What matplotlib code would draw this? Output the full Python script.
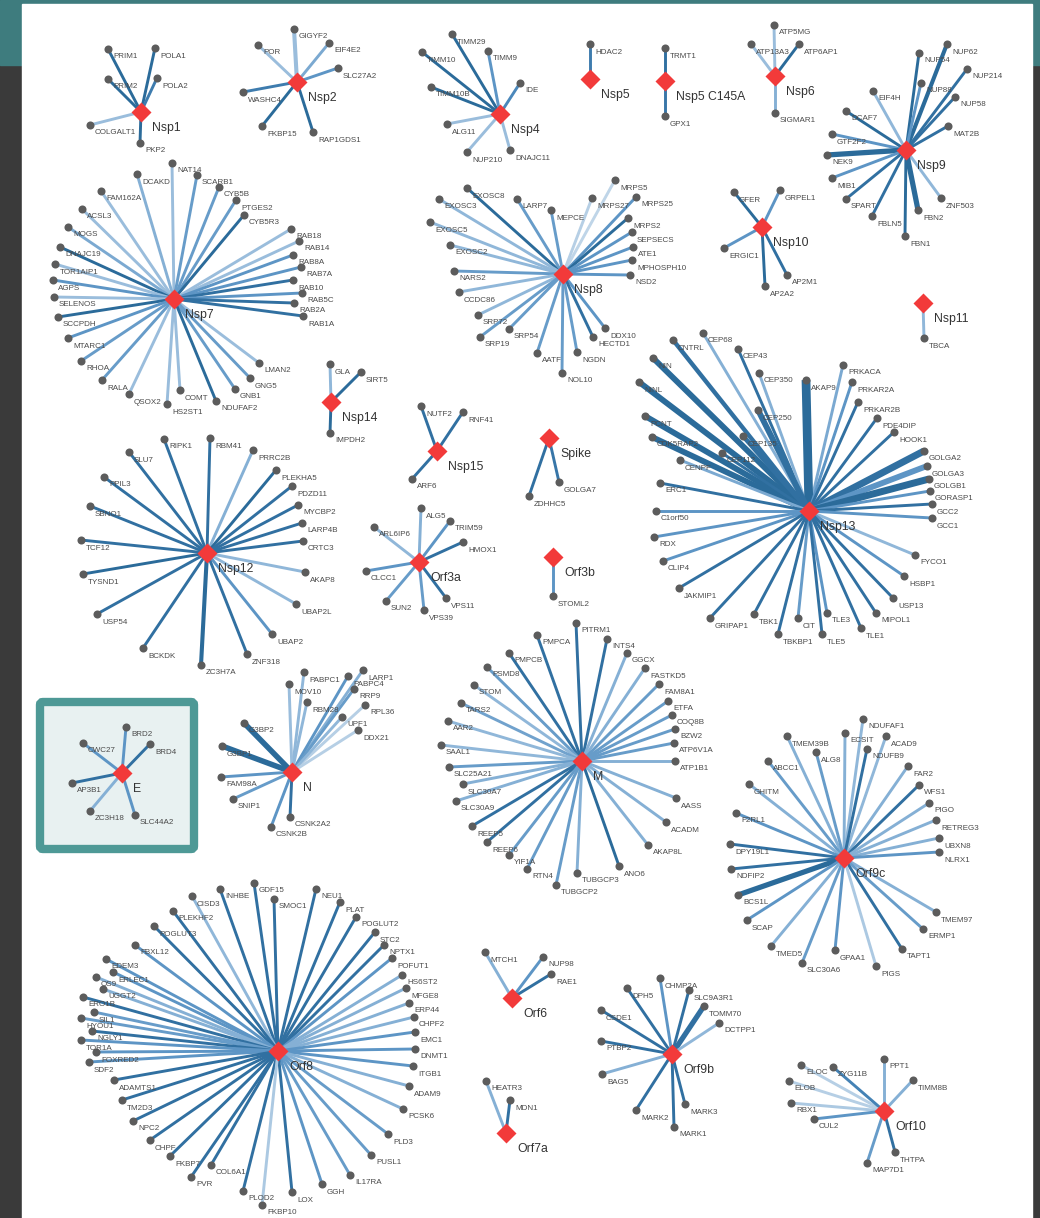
import matplotlib.pyplot as plt
from matplotlib.colors import LinearSegmentedColormap
from matplotlib.patches import Rectangle, FancyBboxPatch

plt.rcParams['font.family'] = ['Liberation Sans', 'DejaVu Sans']

# viral baits and hub positions (canvas pixels, y down)
baits = ["Nsp1", "Nsp2", "Nsp4", "Nsp5", "Nsp5 C145A", "Nsp6", "Nsp7", "Nsp8",
         "Nsp9", "Nsp10", "Nsp11", "Nsp12", "Nsp13", "Nsp14", "Nsp15", "Spike",
         "Orf3a", "Orf3b", "E", "N", "M", "Orf6", "Orf7a", "Orf8", "Orf9b",
         "Orf9c", "Orf10"]
bait_xy = [(141, 112), (297, 82), (500, 114), (590, 79), (665, 81), (775, 76),
           (174, 299), (563, 274), (906, 150), (762, 227), (923, 303), (207, 553),
           (809, 511), (331, 402), (437, 451), (549, 438), (419, 562), (553, 557),
           (122, 773), (292, 772), (582, 761), (512, 998), (506, 1133), (278, 1051),
           (672, 1054), (844, 858), (884, 1111)]

# host interactors, edge score (0 weak .. 1 strong) and node layout per bait
nsp1_prey = ["PRIM1", "POLA1", "PRIM2", "POLA2", "COLGALT1", "PKP2"]
nsp1_score = [.95, .95, .95, .8, .3, .95]
nsp1_xy = [(108, 49), (155, 48), (108, 79), (157, 78), (90, 125), (140, 143)]

nsp2_prey = ["GIGYF2", "EIF4E2", "POR", "SLC27A2", "WASHC4", "FKBP15", "RAP1GDS1"]
nsp2_score = [.3, .45, .3, .6, .8, .95, .95]
nsp2_xy = [(294, 29), (329, 43), (258, 45), (338, 68), (243, 92), (262, 126), (313, 132)]

nsp4_prey = ["TIMM29", "TIMM10", "TIMM9", "IDE", "TIMM10B", "ALG11", "NUP210", "DNAJC11"]
nsp4_score = [.95, .95, .6, .7, .95, .3, .3, .3]
nsp4_xy = [(452, 34), (422, 52), (488, 51), (520, 83), (431, 87), (447, 124),
           (467, 152), (510, 150)]

nsp5_prey = ["HDAC2"]
nsp5_score = [.8]
nsp5_xy = [(590, 44)]

nsp5m_prey = ["TRMT1", "GPX1"]
nsp5m_score = [.9, .85]
nsp5m_xy = [(665, 48), (665, 116)]

nsp6_prey = ["ATP5MG", "ATP13A3", "ATP6AP1", "SIGMAR1"]
nsp6_score = [.3, .3, .95, .4]
nsp6_xy = [(774, 25), (751, 44), (799, 44), (775, 113)]

nsp7_prey = ["NAT14", "DCAKD", "SCARB1", "CYB5B", "FAM162A", "PTGES2", "CYB5R3",
             "ACSL3", "MOGS", "RAB18", "RAB14", "DNAJC19", "RAB8A", "RAB7A",
             "TOR1AIP1", "RAB10", "AGPS", "RAB5C", "SELENOS", "RAB2A", "SCCPDH",
             "RAB1A", "MTARC1", "RHOA", "LMAN2", "RALA", "GNG5", "GNB1", "COMT",
             "QSOX2", "NDUFAF2", "HS2ST1"]
nsp7_score = [.3, .4, .55, .55, .3, .55, .95, .3, .45, .3, .3, .95, .6, .6, .3, .9,
              .6, .6, .3, .9, .95, .9, .6, .55, .3, .55, .55, .55, .3, .3, .95, .3]
nsp7_xy = [(172, 163), (137, 174), (197, 175), (219, 187), (101, 191), (236, 200),
           (244, 215), (82, 209), (68, 227), (291, 229), (299, 241), (60, 247),
           (293, 255), (301, 267), (55, 264), (293, 280), (53, 280), (302, 293),
           (54, 297), (294, 303), (58, 317), (303, 316), (68, 338), (81, 361),
           (259, 363), (102, 380), (250, 378), (235, 389), (180, 390), (129, 394),
           (216, 401), (167, 404)]

nsp8_prey = ["EXOSC8", "MRPS5", "EXOSC3", "LARP7", "MRPS27", "MRPS25", "MEPCE",
             "EXOSC5", "MRPS2", "SEPSECS", "EXOSC2", "ATE1", "MPHOSPH10", "NARS2",
             "NSD2", "CCDC86", "SRP72", "SRP54", "SRP19", "DDX10", "HECTD1",
             "AATF", "NGDN", "NOL10"]
nsp8_score = [.95, .1, .35, .55, .15, .6, .55, .35, .95, .6, .35, .6, .6, .55, .6,
              .35, .35, .55, .55, .6, .9, .55, .55, .55]
nsp8_xy = [(467, 188), (615, 180), (439, 199), (517, 199), (592, 198), (636, 197),
           (551, 210), (430, 222), (628, 218), (632, 232), (450, 245), (633, 247),
           (632, 260), (454, 271), (630, 275), (459, 292), (478, 315), (509, 329),
           (480, 337), (605, 328), (593, 337), (537, 353), (577, 352), (562, 373)]

nsp9_prey = ["NUP62", "NUP54", "NUP214", "NUP88", "EIF4H", "NUP58", "DCAF7", "MAT2B",
             "GTF2F2", "NEK9", "MIB1", "SPART", "ZNF503", "FBN2", "FBLN5", "FBN1"]
nsp9_score = [.95, .95, .9, .6, .35, .9, .95, .9, .6, .95, .6, .9, .35, .95, .9, .95]
nsp9_xy = [(947, 44), (919, 53), (967, 69), (921, 83), (873, 91), (955, 97),
           (846, 111), (948, 126), (832, 134), (827, 155), (832, 178), (846, 199),
           (941, 198), (918, 210), (872, 216), (905, 236)]

nsp10_prey = ["GFER", "GRPEL1", "ERGIC1", "AP2M1", "AP2A2"]
nsp10_score = [.95, .6, .6, .9, .95]
nsp10_xy = [(734, 192), (780, 190), (724, 248), (787, 275), (765, 286)]

nsp11_prey = ["TBCA"]
nsp11_score = [.35]
nsp11_xy = [(924, 338)]

nsp12_prey = ["RBM41", "RIPK1", "PRRC2B", "SLU7", "PLEKHA5", "PPIL3", "PDZD11",
              "SBNO1", "MYCBP2", "LARP4B", "TCF12", "CRTC3", "TYSND1", "AKAP8",
              "UBAP2L", "USP54", "UBAP2", "BCKDK", "ZNF318", "ZC3H7A"]
nsp12_score = [.9, .9, .4, .9, .95, .9, .9, .9, .9, .9, .9, .9, .95, .35, .35, .9,
               .6, .9, .9, .95]
nsp12_xy = [(210, 438), (164, 439), (253, 450), (129, 452), (276, 470), (104, 477),
            (292, 486), (90, 506), (298, 505), (302, 523), (81, 540), (303, 541),
            (83, 574), (305, 572), (296, 604), (97, 614), (272, 634), (143, 648),
            (247, 654), (201, 665)]

nsp13_prey = ["CEP68", "CNTRL", "CEP43", "NIN", "PRKACA", "CEP350", "AKAP9",
              "PRKAR2A", "NINL", "PRKAR2B", "CEP250", "PCNT", "PDE4DIP", "HOOK1",
              "CDK5RAP2", "CEP135", "GOLGA2", "CEP112", "CENPF", "GOLGA3", "GOLGB1",
              "ERC1", "GORASP1", "GCC2", "C1orf50", "GCC1", "RDX", "FYCO1", "CLIP4",
              "HSBP1", "JAKMIP1", "USP13", "GRIPAP1", "MIPOL1", "TBK1", "CIT",
              "TLE3", "TLE1", "TBKBP1", "TLE5"]
nsp13_score = [.4, .9, .9, .95, .45, .4, .95, .6, .95, .9, .9, .95, .9, .9, .95,
               .9, .9, .9, .45, .6, .95, .9, .6, .9, .6, .6, .6, .35, .6, .6, .9,
               .9, .9, .9, .9, .55, .6, .9, .9, .9]
nsp13_xy = [(703, 333), (673, 340), (738, 349), (653, 358), (843, 365), (759, 373),
            (806, 380), (852, 382), (639, 382), (858, 402), (758, 410), (645, 416),
            (877, 418), (894, 432), (652, 437), (743, 436), (924, 451), (722, 453),
            (680, 460), (927, 466), (929, 479), (660, 483), (930, 491), (932, 504),
            (656, 511), (932, 518), (654, 537), (915, 555), (663, 561), (904, 576),
            (679, 588), (893, 598), (710, 618), (876, 613), (754, 614), (798, 618),
            (827, 613), (861, 628), (778, 634), (822, 634)]

nsp14_prey = ["GLA", "SIRT5", "IMPDH2"]
nsp14_score = [.35, .95, .95]
nsp14_xy = [(330, 364), (361, 372), (330, 433)]

nsp15_prey = ["NUTF2", "RNF41", "ARF6"]
nsp15_score = [.9, .9, .9]
nsp15_xy = [(421, 406), (463, 412), (412, 479)]

spike_prey = ["GOLGA7", "ZDHHC5"]
spike_score = [.85, .9]
spike_xy = [(559, 482), (529, 496)]

orf3a_prey = ["ALG5", "ARL6IP6", "TRIM59", "HMOX1", "CLCC1", "SUN2", "VPS39", "VPS11"]
orf3a_score = [.4, .35, .6, .9, .6, .55, .55, .9]
orf3a_xy = [(421, 508), (374, 527), (450, 521), (463, 542), (366, 571), (386, 601),
            (424, 610), (446, 598)]

orf3b_prey = ["STOML2"]
orf3b_score = [.6]
orf3b_xy = [(553, 596)]

e_prey = ["BRD2", "CWC27", "BRD4", "AP3B1", "ZC3H18", "SLC44A2"]
e_score = [.6, .6, .9, .9, .4, .6]
e_xy = [(126, 727), (83, 743), (150, 744), (72, 783), (90, 811), (135, 815)]

n_prey = ["LARP1", "PABPC1", "PABPC4", "MOV10", "RRP9", "RBM28", "RPL36", "UPF1",
          "G3BP2", "DDX21", "G3BP1", "FAM98A", "SNIP1", "CSNK2A2", "CSNK2B"]
n_score = [.4, .35, .6, .3, .55, .35, .15, .35, .95, .15, .95, .6, .55, .9, .6]
n_xy = [(363, 670), (304, 672), (348, 676), (289, 684), (354, 689), (307, 702),
        (365, 705), (342, 717), (244, 723), (358, 730), (222, 746), (221, 777),
        (233, 799), (290, 817), (271, 827)]

m_prey = ["PITRM1", "PMPCA", "INTS4", "PMPCB", "GGCX", "PSMD8", "FASTKD5", "STOM",
          "FAM8A1", "TARS2", "ETFA", "COQ8B", "AAR2", "BZW2", "SAAL1", "ATP6V1A",
          "ATP1B1", "SLC25A21", "SLC30A7", "AASS", "SLC30A9", "ACADM", "REEP5",
          "AKAP8L", "REEP6", "YIF1A", "ANO6", "RTN4", "TUBGCP3", "TUBGCP2"]
m_score = [.9, .9, .9, .9, .4, .55, .4, .35, .55, .5, .55, .55, .35, .55, .35, .55,
           .4, .55, .4, .4, .4, .4, .9, .4, .9, .55, .95, .55, .4, .55]
m_xy = [(576, 623), (537, 635), (607, 639), (509, 653), (627, 653), (487, 667),
        (645, 668), (474, 685), (659, 684), (461, 703), (668, 701), (672, 715),
        (448, 721), (675, 729), (441, 745), (674, 743), (675, 761), (449, 767),
        (463, 784), (676, 798), (456, 801), (666, 822), (472, 826), (648, 845),
        (487, 842), (509, 855), (619, 866), (527, 869), (577, 873), (556, 885)]

orf6_prey = ["MTCH1", "NUP98", "RAE1"]
orf6_score = [.4, .6, .9]
orf6_xy = [(485, 952), (543, 957), (551, 974)]

orf7a_prey = ["HEATR3", "MDN1"]
orf7a_score = [.4, .9]
orf7a_xy = [(486, 1081), (510, 1100)]

orf8_prey = ["GDF15", "INHBE", "NEU1", "CISD3", "SMOC1", "PLAT", "PLEKHF2", "POGLUT2",
             "POGLUT3", "STC2", "FBXL12", "NPTX1", "POFUT1", "EDEM3", "ERLEC1",
             "HS6ST2", "OS9", "UGGT2", "MFGE8", "ERO1B", "ERP44", "SIL1", "CHPF2",
             "HYOU1", "NGLY1", "EMC1", "TOR1A", "DNMT1", "FOXRED2", "SDF2", "ITGB1",
             "ADAMTS1", "ADAM9", "TM2D3", "PCSK6", "NPC2", "PLD3", "CHPF", "PUSL1",
             "FKBP7", "COL6A1", "IL17RA", "PVR", "GGH", "PLOD2", "LOX", "FKBP10"]
orf8_score = [.9, .9, .9, .35, .9, .9, .9, .9, .9, .9, .6, .9, .6, .6, .6, .4, .4,
              .4, .4, .9, .4, .55, .4, .55, .9, .6, .6, .6, .6, .6, .6, .9, .4, .9,
              .4, .9, .55, .9, .55, .9, .9, .55, .9, .6, .9, .9, .2]
orf8_xy = [(254, 883), (220, 889), (316, 889), (192, 896), (274, 899), (340, 902),
           (173, 911), (356, 917), (154, 926), (375, 932), (135, 945), (384, 945),
           (392, 958), (106, 959), (113, 972), (402, 975), (96, 977), (103, 989),
           (406, 988), (83, 997), (409, 1003), (94, 1012), (414, 1017), (81, 1018),
           (92, 1031), (415, 1032), (81, 1040), (415, 1049), (96, 1052), (89, 1062),
           (413, 1066), (114, 1080), (409, 1086), (122, 1100), (403, 1109),
           (133, 1121), (388, 1134), (150, 1140), (371, 1155), (170, 1156),
           (211, 1165), (350, 1175), (191, 1177), (322, 1184), (243, 1191),
           (292, 1192), (262, 1205)]

orf9b_prey = ["CHMP2A", "DPH5", "SLC9A3R1", "CSDE1", "TOMM70", "DCTPP1", "PTBP2",
              "BAG5", "MARK3", "MARK2", "MARK1"]
orf9b_score = [.6, .9, .9, .9, .9, .35, .9, .4, .9, .9, .9]
orf9b_xy = [(660, 978), (627, 988), (689, 990), (601, 1010), (704, 1006),
            (719, 1023), (601, 1041), (602, 1074), (685, 1104), (636, 1110),
            (674, 1127)]

orf9c_prey = ["NDUFAF1", "ECSIT", "ACAD9", "TMEM39B", "NDUFB9", "ALG8", "ABCC1",
              "FAR2", "GHITM", "WFS1", "PIGO", "F2RL1", "RETREG3", "UBXN8", "DPY19L1",
              "NLRX1", "NDFIP2", "BCS1L", "TMEM97", "SCAP", "ERMP1", "TMED5", "TAPT1",
              "GPAA1", "SLC30A6", "PIGS"]
orf9c_score = [.35, .4, .35, .4, .9, .55, .55, .4, .4, .9, .4, .6, .4, .4, .9, .6,
               .9, .95, .4, .6, .55, .4, .9, .6, .55, .2]
orf9c_xy = [(863, 719), (845, 733), (886, 736), (787, 736), (867, 749), (816, 752),
            (768, 761), (908, 766), (749, 784), (919, 785), (929, 803), (736, 813),
            (936, 820), (939, 838), (730, 844), (939, 852), (731, 869), (738, 895),
            (936, 912), (747, 920), (923, 929), (771, 946), (902, 949), (835, 950),
            (802, 963), (876, 966)]

orf10_prey = ["PPT1", "ELOC", "ZYG11B", "TIMM8B", "ELOB", "RBX1", "CUL2", "THTPA",
              "MAP7D1"]
orf10_score = [.4, .15, .75, .4, .15, .2, .6, .9, .55]
orf10_xy = [(884, 1059), (801, 1065), (833, 1067), (913, 1080), (789, 1081),
            (791, 1103), (814, 1119), (895, 1152), (867, 1163)]

# edges drawn heavier (relative abundance)
heavy_prey = ["AKAP9", "NIN", "NINL", "PCNT", "CDK5RAP2", "CEP250", "GOLGA2",
              "GOLGB1", "GOLGA3", "CNTRL", "NEK9", "FBN2", "NUP62", "G3BP1", "G3BP2",
              "BCS1L", "TOMM70", "ZC3H7A", "GIGYF2", "CEP135"]
heavy_factor = [3.0, 2.0, 2.0, 2.0, 2.0, 2.0, 2.4, 2.4, 2.0, 1.5, 1.8, 1.8, 1.4,
                1.9, 1.9, 1.8, 1.8, 1.4, 1.4, 1.6]

prey_sets = [
    (nsp1_prey, nsp1_score, nsp1_xy), (nsp2_prey, nsp2_score, nsp2_xy),
    (nsp4_prey, nsp4_score, nsp4_xy), (nsp5_prey, nsp5_score, nsp5_xy),
    (nsp5m_prey, nsp5m_score, nsp5m_xy), (nsp6_prey, nsp6_score, nsp6_xy),
    (nsp7_prey, nsp7_score, nsp7_xy), (nsp8_prey, nsp8_score, nsp8_xy),
    (nsp9_prey, nsp9_score, nsp9_xy), (nsp10_prey, nsp10_score, nsp10_xy),
    (nsp11_prey, nsp11_score, nsp11_xy), (nsp12_prey, nsp12_score, nsp12_xy),
    (nsp13_prey, nsp13_score, nsp13_xy), (nsp14_prey, nsp14_score, nsp14_xy),
    (nsp15_prey, nsp15_score, nsp15_xy), (spike_prey, spike_score, spike_xy),
    (orf3a_prey, orf3a_score, orf3a_xy), (orf3b_prey, orf3b_score, orf3b_xy),
    (e_prey, e_score, e_xy), (n_prey, n_score, n_xy), (m_prey, m_score, m_xy),
    (orf6_prey, orf6_score, orf6_xy), (orf7a_prey, orf7a_score, orf7a_xy),
    (orf8_prey, orf8_score, orf8_xy), (orf9b_prey, orf9b_score, orf9b_xy),
    (orf9c_prey, orf9c_score, orf9c_xy), (orf10_prey, orf10_score, orf10_xy),
]

edge_cmap = LinearSegmentedColormap.from_list(
    "edge", ["#d2e0ee", "#93b9da", "#4f8cc0", "#256594"])

W, H = 1040, 1218
fig = plt.figure(figsize=(W / 100, H / 100), dpi=100, facecolor="#3a3a3a")
ax = fig.add_axes([0, 0, 1, 1])
ax.set_xlim(0, W)
ax.set_ylim(H, 0)
ax.axis("off")

# page frame: teal header strip behind a white sheet
ax.add_patch(Rectangle((0, 0), W, 65, color="#3e7c7e", zorder=0))
ax.add_patch(Rectangle((22, 4), 1010, H, color="white", zorder=0))
# highlighted E-protein module
ax.add_patch(FancyBboxPatch((40, 702), 154, 147, boxstyle="round,pad=0,rounding_size=3",
                            fc="#e8f1f1", ec="#4e9996", lw=6, zorder=0.5))

heavy = dict(zip(heavy_prey, heavy_factor))
base_lw = 2.1

for name, (bx, by), (prey, score, xy) in zip(baits, bait_xy, prey_sets):
    for p, s, (px, py) in zip(prey, score, xy):
        ax.plot([bx, px], [by, py], color=edge_cmap(s),
                lw=base_lw * heavy.get(p, 1.0), solid_capstyle="butt", zorder=1)
    for p, (px, py) in zip(prey, xy):
        ax.plot(px, py, "o", ms=5.8, color="#5c5c5c", mec="none", zorder=2)
        ax.text(px + 5, py + 8, p, fontsize=5.8, color="#4a4a4a",
                ha="left", va="center", zorder=4)
    ax.plot(bx, by, "D", ms=10.5, color="#f23a3a", mec="none", zorder=3)
    ax.text(bx + 11, by + 16, name, fontsize=8.8, color="#333333",
            ha="left", va="center", zorder=4)

fig.savefig("out.png", dpi=100, facecolor=fig.get_facecolor())
